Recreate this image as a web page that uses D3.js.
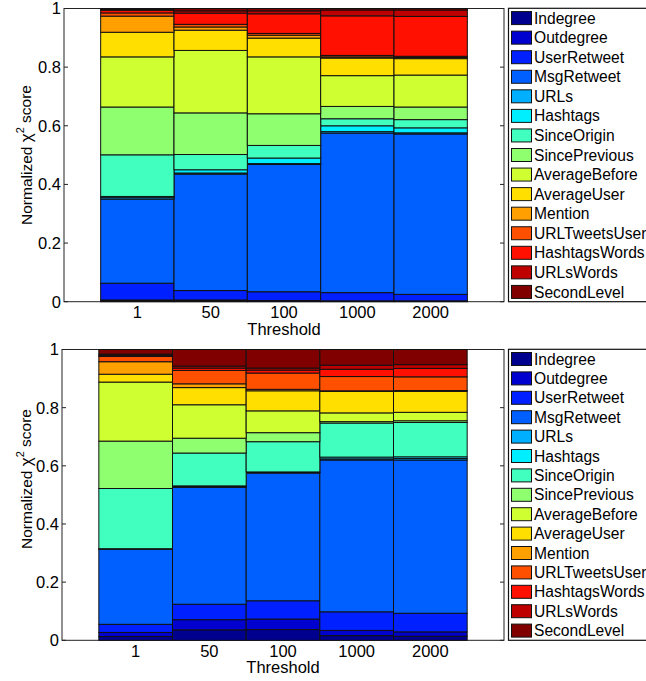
<!DOCTYPE html>
<html>
<head>
<meta charset="utf-8">
<script src="https://cdn.jsdelivr.net/npm/d3@7"></script>
<style>
  body { margin: 0; background: #fff; }
  svg { display: block; font-family: "Liberation Sans", Arial, sans-serif; }
</style>
</head>
<body>
<svg id="chart" width="646" height="681"></svg>
<script>
// thresholds on the x axis
const thresholds = ['1', '50', '100', '1000', '2000'];
const yTicks = [0, 0.2, 0.4, 0.6, 0.8, 1];

const features = ['Indegree', 'Outdegree', 'UserRetweet', 'MsgRetweet', 'URLs', 'Hashtags',
  'SinceOrigin', 'SincePrevious', 'AverageBefore', 'AverageUser', 'Mention',
  'URLTweetsUser', 'HashtagsWords', 'URLsWords', 'SecondLevel'];

// jet colormap, one entry per feature
const featureColors = ['#00008f', '#0000cf', '#0020ff', '#0060ff', '#00afff', '#00efff',
  '#40ffbf', '#8fff70', '#cfff30', '#ffdf00', '#ff9f00', '#ff5000', '#ff1000',
  '#bf0000', '#800000'];

// upper panel: one row per feature, one value per threshold
const topScores = [
  [0.003, 0.003, 0.002, 0.002, 0.002],
  [0.003, 0.003, 0.002, 0.001, 0.001],
  [0.057, 0.032, 0.030, 0.028, 0.022],
  [0.287, 0.397, 0.434, 0.544, 0.547],
  [0.005, 0.004, 0.003, 0.005, 0.004],
  [0.004, 0.011, 0.019, 0.020, 0.017],
  [0.142, 0.052, 0.043, 0.024, 0.028],
  [0.163, 0.142, 0.108, 0.042, 0.043],
  [0.171, 0.213, 0.194, 0.105, 0.109],
  [0.084, 0.069, 0.064, 0.060, 0.056],
  [0.055, 0.011, 0.010, 0.004, 0.004],
  [0.011, 0.009, 0.006, 0.005, 0.004],
  [0.009, 0.038, 0.067, 0.135, 0.136],
  [0.003, 0.008, 0.010, 0.020, 0.022],
  [0.003, 0.008, 0.008, 0.005, 0.005]
];

// lower panel
const bottomScores = [
  [0.013, 0.036, 0.037, 0.016, 0.014],
  [0.014, 0.035, 0.036, 0.018, 0.015],
  [0.028, 0.053, 0.063, 0.064, 0.064],
  [0.258, 0.402, 0.439, 0.522, 0.527],
  [0.001, 0.002, 0.002, 0.004, 0.005],
  [0.001, 0.003, 0.002, 0.006, 0.006],
  [0.207, 0.113, 0.104, 0.117, 0.118],
  [0.163, 0.051, 0.031, 0.005, 0.006],
  [0.203, 0.115, 0.075, 0.030, 0.029],
  [0.027, 0.059, 0.069, 0.074, 0.072],
  [0.043, 0.013, 0.005, 0.002, 0.003],
  [0.018, 0.046, 0.056, 0.049, 0.047],
  [0.004, 0.008, 0.010, 0.025, 0.029],
  [0.004, 0.007, 0.007, 0.014, 0.013],
  [0.016, 0.057, 0.064, 0.054, 0.052]
];

const svg = d3.select('#chart');
const color = d3.scaleOrdinal().domain(features).range(featureColors);

function drawPanel(scores, box) {
  const g = svg.append('g');
  const x = d3.scaleLinear().domain([0, thresholds.length + 1]).range([box.left, box.right]);
  const y = d3.scaleLinear().domain([0, 1]).range([box.bottom, box.top]);

  const rows = thresholds.map((t, j) => {
    let row = { threshold: t, pos: j + 1 };
    features.forEach((f, i) => { row[f] = scores[i][j]; });
    return row;
  });
  const stacked = d3.stack().keys(features)(rows);

  // axes box (drawn under the bars, like matlab's default layer)
  g.append('rect')
    .attr('x', box.left).attr('y', box.top)
    .attr('width', box.right - box.left).attr('height', box.bottom - box.top)
    .attr('fill', '#fff').attr('stroke', '#222').attr('stroke-width', 1);

  yTicks.forEach(v => {
    g.append('line').attr('x1', box.left).attr('x2', box.left + 4)
      .attr('y1', y(v)).attr('y2', y(v)).attr('stroke', '#222');
    g.append('line').attr('x1', box.right - 4).attr('x2', box.right)
      .attr('y1', y(v)).attr('y2', y(v)).attr('stroke', '#222');
    g.append('text').attr('x', box.left - 3).attr('y', y(v)).attr('dy', '0.36em')
      .attr('text-anchor', 'end').attr('font-size', 16.5).text(d3.format('~g')(v));
  });

  g.selectAll('g.layer')
    .data(stacked)
    .enter().append('g')
    .attr('class', 'layer')
    .attr('fill', d => color(d.key))
    .selectAll('rect')
    .data(d => d)
    .enter().append('rect')
    .attr('x', d => x(d.data.pos - 0.5))
    .attr('width', d => x(d.data.pos + 0.5) - x(d.data.pos - 0.5))
    .attr('y', d => y(d[1]))
    .attr('height', d => y(d[0]) - y(d[1]))
    .attr('stroke', '#111')
    .attr('stroke-width', 1);

  rows.forEach(r => {
    g.append('text').attr('x', x(r.pos)).attr('y', box.bottom + 16.5)
      .attr('text-anchor', 'middle').attr('font-size', 16.5).text(r.threshold);
  });
  g.append('text').attr('x', (box.left + box.right) / 2).attr('y', box.bottom + 33)
    .attr('text-anchor', 'middle').attr('font-size', 16.5).text('Threshold');

  const yl = g.append('text')
    .attr('transform', `translate(31.5,${box.labelY}) rotate(-90)`)
    .attr('text-anchor', 'middle').attr('font-size', 15.5);
  yl.append('tspan').text('Normalized ');
  yl.append('tspan').attr('font-size', 17).text('χ');
  yl.append('tspan').attr('font-size', 11).attr('dy', '-0.65em').text('2');
  yl.append('tspan').attr('dy', '0.45em').text(' score');

  // legend
  const lg = g.append('g');
  const lTop = box.top - 0.2, lBottom = box.bottom;
  const step = (lBottom - lTop) / features.length;
  lg.append('rect').attr('x', 508.5).attr('y', lTop)
    .attr('width', 200).attr('height', lBottom - lTop)
    .attr('fill', '#fff').attr('stroke', '#111').attr('stroke-width', 1.2);
  features.forEach((f, i) => {
    const cy = lTop + step * (i + 0.5);
    lg.append('rect').attr('x', 511.5).attr('y', cy - 6.5)
      .attr('width', 20).attr('height', 13)
      .attr('fill', color(f)).attr('stroke', '#111').attr('stroke-width', 1);
    lg.append('text').attr('x', 534).attr('y', cy).attr('dy', '0.36em')
      .attr('font-size', 15.6).text(f);
  });
}

drawPanel(topScores, { left: 64, right: 504, top: 8.5, bottom: 301.7, labelY: 155 });
drawPanel(bottomScores, { left: 62, right: 504, top: 349.5, bottom: 640.3, labelY: 479 });
</script>
</body>
</html>
